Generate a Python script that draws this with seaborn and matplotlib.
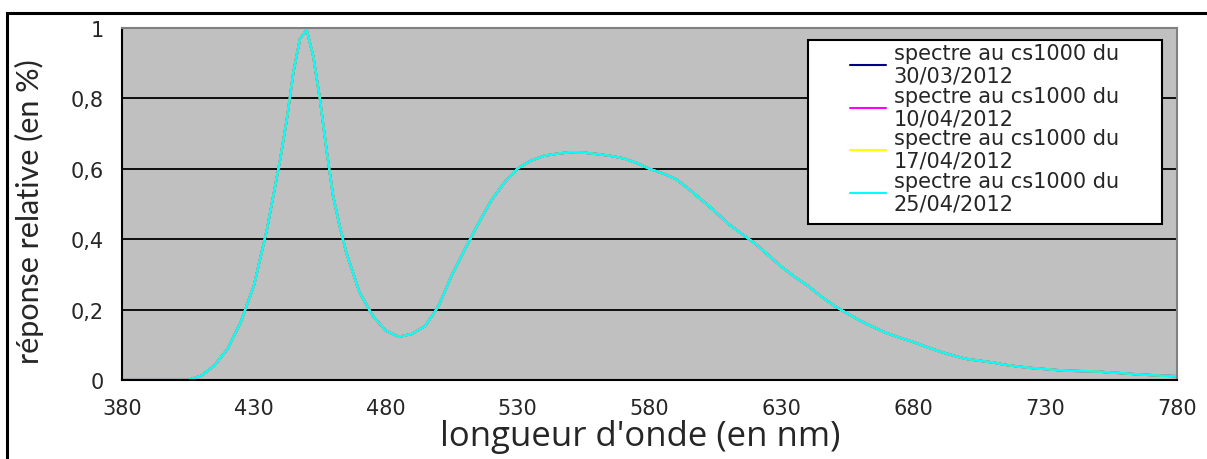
import seaborn as sns
import matplotlib.pyplot as plt
import matplotlib.ticker as mticker
from matplotlib.patches import Rectangle
import pandas as pd
import numpy as np

# longueurs d'onde (nm) et spectre relatif
wavelengths = [380, 385, 390, 395, 400, 405, 410, 415, 420, 425, 430, 435, 440, 442.5, 445, 447.5, 450,
               452.5, 455, 457.5, 460, 462.5, 465, 470, 475, 480, 485, 490, 495, 500, 505, 510, 515, 520, 525,
               530, 535, 540, 545, 550, 555, 560, 565, 570, 575, 580, 585, 590, 595, 600,
               605, 610, 615, 620, 625, 630, 635, 640, 645, 650, 655, 660, 665, 670, 675,
               680, 685, 690, 695, 700, 705, 710, 715, 720, 725, 730, 735, 740, 745, 750,
               755, 760, 765, 770, 775, 780]
spectrum = [0.0, 0.0, 0.0, 0.0, 0.0, 0.0, 0.012, 0.041, 0.088, 0.164, 0.268, 0.429, 0.628, 0.741, 0.875, 0.97, 0.995,
            0.92, 0.80, 0.656, 0.524, 0.438, 0.363, 0.25, 0.183, 0.14, 0.123, 0.131, 0.154, 0.21, 0.297, 0.371, 0.443, 0.51, 0.561,
            0.601, 0.623, 0.637, 0.643, 0.647, 0.646, 0.642, 0.637, 0.63, 0.617, 0.60, 0.587, 0.571, 0.542, 0.51,
            0.478, 0.443, 0.415, 0.388, 0.355, 0.322, 0.293, 0.268, 0.238, 0.211, 0.189, 0.168, 0.15, 0.133, 0.12,
            0.108, 0.094, 0.081, 0.07, 0.06, 0.055, 0.05, 0.043, 0.038, 0.034, 0.031, 0.028, 0.026, 0.025, 0.024,
            0.021, 0.019, 0.016, 0.014, 0.012, 0.011]
series_labels = ["spectre au cs1000 du\n30/03/2012", "spectre au cs1000 du\n10/04/2012",
                 "spectre au cs1000 du\n17/04/2012", "spectre au cs1000 du\n25/04/2012"]
series_colors = ["#000080", "#FF00FF", "#FFFF00", "#00FFFF"]
x_ticks = [380, 430, 480, 530, 580, 630, 680, 730, 780]
y_ticks = [0, 0.2, 0.4, 0.6, 0.8, 1]

frames = []
for lab in series_labels:
    frames.append(pd.DataFrame({"wl": wavelengths, "val": spectrum, "serie": lab}))
df = pd.concat(frames, ignore_index=True)

sns.set_style("white")
plt.rcParams['font.family'] = ['DejaVu Sans']

fig = plt.figure(figsize=(12.07, 4.6), dpi=100)
ax = fig.add_axes([122/1207, 1-381/460, 1055/1207, 352/460])
ax.set_facecolor("#C0C0C0")

sns.lineplot(data=df, x="wl", y="val", hue="serie", palette=series_colors,
             hue_order=series_labels, ax=ax, linewidth=1.6, legend=False)

ax.set_xlim(380, 780)
ax.set_ylim(0, 1)
ax.set_xticks(x_ticks)
ax.set_yticks(y_ticks)
ax.yaxis.set_major_formatter(mticker.FuncFormatter(lambda v, p: f"{v:g}".replace(".", ",")))
ax.tick_params(axis="both", direction="out", length=5, width=1.2, color="black",
               labelsize=15, pad=8)
ax.grid(axis="y", color="black", linewidth=1.3)
ax.set_axisbelow(True)
for s in ["top", "right"]:
    ax.spines[s].set_color("#808080")
    ax.spines[s].set_linewidth(1.5)
for s in ["left", "bottom"]:
    ax.spines[s].set_color("black")
    ax.spines[s].set_linewidth(1.5)

ax.set_xlabel("longueur d'onde (en nm)", fontsize=25, family="Open Sans")
ax.xaxis.set_label_coords((640-122)/1055, -0.11)
ax.set_ylabel("réponse relative (en %)", fontsize=22, family="Lato")
ax.yaxis.set_label_coords(-0.074, 0.48)

# légende : cadre dessiné à part (marges larges comme dans Excel)
ax.add_patch(Rectangle(((808-122)/1055, (381-225)/352), (1162-808)/1055, (225-41)/352,
                       transform=ax.transAxes, facecolor="white", edgecolor="black",
                       linewidth=1.5, zorder=5))
handles = [plt.Line2D([], [], color=c, linewidth=1.5) for c in series_colors]
leg = ax.legend(handles, series_labels, loc="upper left",
                bbox_to_anchor=((850-122)/1055, (381-44)/352), fontsize=15,
                frameon=False, labelspacing=0.0, handlelength=1.75, handletextpad=0.35,
                borderpad=0, borderaxespad=0)
leg.set_zorder(6)
for t in leg.get_texts():
    t.set_linespacing(1.16)

# cadre extérieur
fig.patches.append(Rectangle((7/1207, -0.1), 1.2, 1-14/460+0.1, transform=fig.transFigure,
                             fill=False, edgecolor="black", linewidth=2.2))

fig.savefig("out.png", dpi=100)
